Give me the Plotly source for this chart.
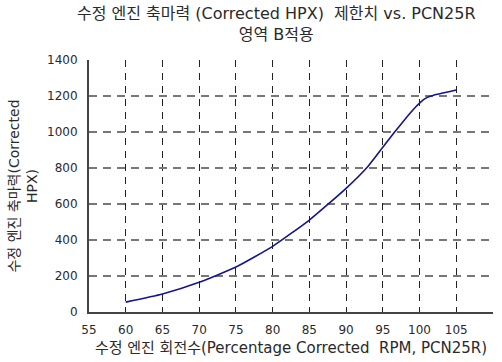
import plotly.graph_objects as go

# Corrected engine shaft horsepower limit vs. corrected RPM
rpm = [60, 65, 70, 75, 80, 85, 90, 93, 95, 96, 97, 98, 99, 99.5, 100, 100.5, 101, 101.5, 102, 103, 104, 105]
hpx = [55, 100, 165, 250, 365, 511, 687, 810, 915, 968, 1020, 1070, 1118, 1140, 1160, 1178, 1191, 1199, 1206, 1215, 1224, 1233]

x_ticks = [55, 60, 65, 70, 75, 80, 85, 90, 95, 100, 105, 110]
y_ticks = [0, 200, 400, 600, 800, 1000, 1200, 1400]

FONT = "DejaVu Sans, Noto Sans CJK KR"

fig = go.Figure()
fig.add_trace(go.Scatter(
    x=rpm, y=hpx, mode="lines",
    line=dict(color="#14148f", width=1.6, shape="spline", smoothing=0.5),
    hoverinfo="skip", showlegend=False,
))

fig.update_layout(
    width=502, height=362,
    margin=dict(l=89, r=9, t=60, b=50),
    paper_bgcolor="white", plot_bgcolor="white",
    font=dict(family=FONT, size=12, color="#2a2a2a"),
    annotations=[dict(
        text="수정 엔진 축마력 (Corrected HPX)  제한치 vs. PCN25R<br>영역 B적용",
        xref="paper", yref="paper", x=0.465, y=1.232,
        xanchor="center", yanchor="top", showarrow=False,
        font=dict(family=FONT, size=16, color="#2a2a2a"),
    )],
)
fig.update_xaxes(
    range=[55, 110], tickvals=x_ticks, ticks="",
    showline=True, linecolor="#444", linewidth=2,
    showgrid=True, gridcolor="#222", gridwidth=1, griddash="7px,6px",
    zeroline=False, ticklabelstandoff=6,
    title=dict(text="수정 엔진 회전수(Percentage Corrected  RPM, PCN25R)",
               font=dict(family=FONT, size=15), standoff=6),
    tickfont=dict(size=12),
)
fig.update_yaxes(
    range=[0, 1400], tickvals=y_ticks, ticks="",
    showline=True, linecolor="#444", linewidth=2,
    showgrid=True, gridcolor="#777", gridwidth=1.5, griddash="8px,6px",
    zeroline=False, ticklabelstandoff=7,
    title=dict(text="수정 엔진 축마력(Corrected<br>HPX)",
               font=dict(family=FONT, size=14), standoff=6),
    tickfont=dict(size=12),
)

fig.write_html("out.html")
